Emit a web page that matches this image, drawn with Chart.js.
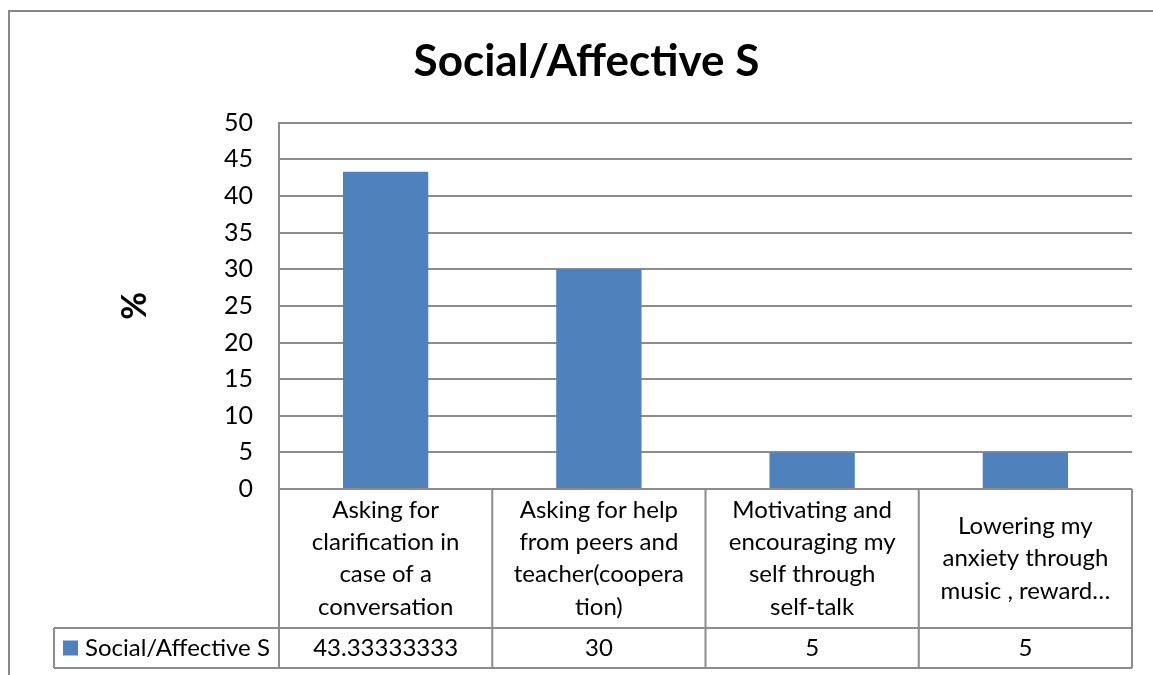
<!DOCTYPE html>
<html>
<head>
<meta charset="utf-8">
<script src="https://cdn.jsdelivr.net/npm/chart.js@4"></script>
<style>
  html, body { margin: 0; padding: 0; background: #fff; }
  #wrap { width: 1153px; height: 675px; }
</style>
</head>
<body>
<div id="wrap"><canvas id="socialChart"></canvas></div>
<script>
const chart_title = 'Social/Affective S';
const series_name = 'Social/Affective S';
const categories = [
  ['Asking for', 'clarification in', 'case of a', 'conversation'],
  ['Asking for help', 'from peers and', 'teacher(coopera', 'tion)'],
  ['Motivating and', 'encouraging my', 'self through', 'self-talk'],
  ['Lowering my', 'anxiety through', 'music , reward\u2026']
];
const percents = [43.33333333, 30, 5, 5];
const y_ticks = [0, 5, 10, 15, 20, 25, 30, 35, 40, 45, 50];

const FONT = 'Lato, "DejaVu Sans", sans-serif';
const BAR_BLUE = '#4F81BD';
const LINE_GREY = '#8c8c8c';

// outer chart border, cut off at the right and bottom edges
const frame = {
  id: 'frame',
  beforeDraw(chart) {
    const ctx = chart.ctx;
    ctx.save();
    ctx.strokeStyle = '#888888';
    ctx.lineWidth = 2;
    ctx.strokeRect(9, 11, chart.width + 20, chart.height + 20);
    ctx.restore();
  }
};

// data table under the plot: category names, then the legend key and values
const dataTable = {
  id: 'dataTable',
  afterDraw(chart) {
    const {ctx, chartArea: area} = chart;
    const n = categories.length;
    const step = (area.right - area.left) / n;
    const top = area.bottom;
    const mid = top + 139;
    const bottom = mid + 40;
    const keyLeft = 54;

    ctx.save();
    ctx.strokeStyle = LINE_GREY;
    ctx.lineWidth = 2;
    ctx.beginPath();
    ctx.moveTo(area.left, top); ctx.lineTo(area.right, top);
    ctx.moveTo(keyLeft, mid); ctx.lineTo(area.right, mid);
    ctx.moveTo(keyLeft, bottom); ctx.lineTo(area.right, bottom);
    for (let i = 0; i <= n; i++) {
      const xe = area.left + i * step;
      ctx.moveTo(xe, top); ctx.lineTo(xe, bottom);
    }
    ctx.moveTo(keyLeft, mid); ctx.lineTo(keyLeft, bottom);
    ctx.stroke();

    ctx.fillStyle = '#000';
    ctx.textAlign = 'center';
    ctx.textBaseline = 'middle';
    ctx.font = '24px ' + FONT;
    const lineH = 32.3;
    categories.forEach((lines, i) => {
      const cx = area.left + (i + 0.5) * step;
      const y0 = (top + mid) / 2 - (lines.length - 1) * lineH / 2;
      lines.forEach((t, j) => ctx.fillText(t, cx, y0 + j * lineH));
      ctx.fillText(String(percents[i]), cx, (mid + bottom) / 2);
    });

    // legend key
    const ry = (mid + bottom) / 2;
    ctx.fillStyle = BAR_BLUE;
    ctx.fillRect(63, ry - 7.5, 15, 15);
    ctx.fillStyle = '#000';
    ctx.textAlign = 'left';
    ctx.fillText(series_name, 85, ry);
    ctx.restore();
  }
};

new Chart(document.getElementById('socialChart'), {
  type: 'bar',
  data: {
    labels: categories,
    datasets: [{
      label: series_name,
      data: percents,
      backgroundColor: BAR_BLUE,
      barPercentage: 0.4,
      categoryPercentage: 1
    }]
  },
  options: {
    responsive: true,
    maintainAspectRatio: false,
    animation: false,
    // left/right padding keeps the title centred on the whole frame
    layout: { padding: { left: 41, right: 21, top: 0, bottom: 0 } },
    plugins: {
      legend: { display: false },
      tooltip: { enabled: false },
      title: {
        display: true,
        text: chart_title,
        color: '#000',
        font: { family: FONT, size: 44, weight: 'bold' },
        padding: { top: 35, bottom: 35 }
      }
    },
    scales: {
      x: {
        ticks: { display: false },
        grid: { display: false },
        border: { display: false },
        afterFit(scale) { scale.height = 186; }
      },
      y: {
        min: 0,
        max: 50,
        afterBuildTicks(scale) { scale.ticks = y_ticks.map(v => ({ value: v })); },
        ticks: {
          color: '#000',
          padding: 26,
          font: { family: FONT, size: 25 }
        },
        grid: { color: LINE_GREY, lineWidth: 2, drawTicks: false },
        border: { display: true, color: LINE_GREY, width: 2 },
        title: {
          display: true,
          text: '%',
          color: '#000',
          font: { family: FONT, size: 34, weight: 'bold' },
          padding: { top: 74 }
        },
        afterFit(scale) { scale.width = 238; }
      }
    }
  },
  plugins: [frame, dataTable]
});
</script>
</body>
</html>
